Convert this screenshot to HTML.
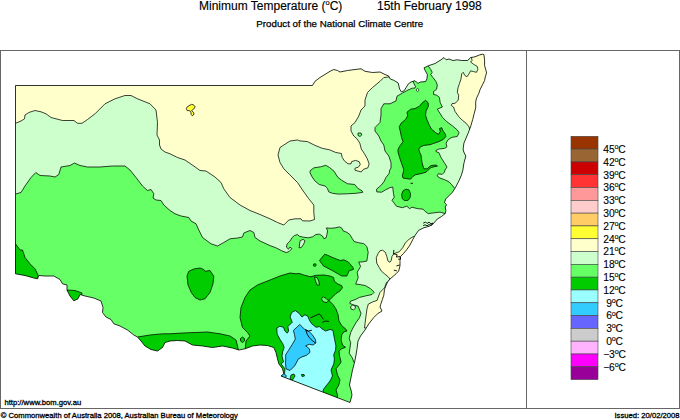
<!DOCTYPE html>
<html lang="en"><head><meta charset="utf-8"><title>Minimum Temperature (°C) 15th February 1998</title>
<style>
html,body{margin:0;padding:0;background:#fff}
body{width:680px;height:420px;overflow:hidden}
svg{display:block}
text{font-family:"Liberation Sans",Arial,Helvetica,sans-serif;fill:#000}
.t1{font-size:12px;stroke:#000;stroke-width:.15px}
.t2{font-size:9.75px;stroke:#000;stroke-width:.25px}
.sm{font-size:7.65px;stroke:#000;stroke-width:.3px}
.lg{font-size:10.3px;letter-spacing:-.15px;stroke:#000;stroke-width:.12px}
.sup{font-size:6.5px}
.c{stroke:#000;stroke-width:.75;stroke-linejoin:round}
</style></head><body>
<svg width="680" height="420" viewBox="0 0 680 420">
<rect width="680" height="420" fill="#fff"/>
<defs><clipPath id="nsw"><path d="M15.5,85.5 L312.5,85.5 L315.0,81.3 L320.0,77.5 L326.0,73.8 L330.0,71.3 L333.8,69.5 L337.5,70.5 L340.0,72.0 L347.5,70.5 L355.0,69.5 L361.0,68.8 L365.0,71.3 L372.5,72.5 L380.0,72.0 L385.0,74.5 L388.5,75.9 L390.3,79.0 L393.8,80.3 L398.2,83.0 L399.6,89.0 L401.3,91.8 L404.0,90.9 L406.2,87.4 L408.4,83.8 L411.0,82.0 L415.0,80.7 L416.3,82.0 L418.0,83.4 L420.3,82.0 L425.6,81.6 L426.9,79.0 L427.4,74.6 L425.2,70.6 L424.0,67.9 L428.5,65.7 L435.1,63.5 L441.0,59.8 L444.0,57.6 L446.2,59.8 L449.1,59.0 L452.8,60.5 L457.3,59.8 L461.7,60.5 L467.6,60.5 L470.6,57.6 L475.0,56.8 L479.4,55.0 L482.4,54.2 L483.9,54.6 L484.6,59.8 L484.6,65.7 L486.1,70.8 L486.5,73.1 L485.3,76.8 L484.6,80.5 L482.4,84.9 L480.2,89.3 L478.7,93.7 L476.5,98.2 L475.7,101.9 L475.7,107.7 L474.2,113.6 L472.7,119.5 L470.5,126.9 L468.3,132.8 L466.1,138.0 L463.9,143.2 L463.1,149.1 L463.8,152.0 L465.8,156.0 L463.8,163.8 L462.9,170.0 L461.4,175.2 L459.2,180.3 L456.2,186.2 L454.8,188.5 L452.5,192.2 L448.9,195.8 L445.9,198.8 L444.4,202.5 L446.6,204.7 L445.2,206.9 L445.9,210.6 L445.2,213.6 L441.5,216.5 L437.3,219.0 L433.3,223.7 L429.3,226.3 L424.0,227.7 L418.7,230.3 L415.3,235.0 L412.7,239.7 L410.0,245.0 L406.7,249.7 L403.3,253.7 L400.7,256.3 L400.0,260.3 L400.0,265.7 L398.7,271.0 L396.0,273.8 L390.0,279.0 L387.5,282.0 L386.0,285.6 L384.5,289.3 L383.8,295.2 L382.3,299.7 L380.8,304.1 L380.0,307.0 L382.0,311.0 L377.5,313.8 L373.8,317.5 L368.8,323.8 L365.0,330.0 L360.5,336.0 L358.0,341.0 L357.0,348.8 L356.0,355.0 L354.5,362.5 L352.5,370.0 L351.0,377.5 L349.5,385.0 L351.0,390.0 L352.0,395.0 L350.0,402.5 L281.0,376.0 L283.8,373.8 L282.5,368.8 L278.8,363.8 L277.5,358.8 L276.0,352.5 L273.8,347.5 L267.5,345.5 L260.0,345.0 L252.5,346.0 L245.0,348.8 L238.8,350.0 L232.5,348.0 L222.5,346.0 L212.5,347.5 L202.5,346.0 L192.5,345.0 L185.0,341.0 L177.5,340.5 L170.0,341.0 L165.0,342.5 L162.5,347.5 L157.5,351.0 L151.0,349.5 L145.0,346.0 L141.0,341.0 L137.5,337.0 L133.8,335.0 L127.5,330.0 L120.0,326.0 L113.8,323.8 L111.0,319.5 L106.0,317.0 L102.5,312.5 L103.0,307.5 L101.0,301.0 L93.8,298.0 L85.0,296.0 L80.0,294.5 L78.0,298.8 L73.8,300.8 L70.0,296.0 L67.0,290.0 L67.0,285.0 L62.5,283.8 L60.0,279.5 L53.8,276.0 L45.0,276.0 L38.8,275.5 L37.5,278.8 L33.8,278.0 L25.0,275.5 L15.5,273.8Z"/></clipPath></defs>
<text class="t1" x="199" y="10">Minimum Temperature (<tspan style="font-size:7.5px" dy="-4.8">o</tspan><tspan dy="4.8">C)</tspan></text>
<text class="t1" x="377" y="10">15th February 1998</text>
<text class="t2" x="256.3" y="27">Product of the National Climate Centre</text>
<path d="M15.5,85.5 L312.5,85.5 L315.0,81.3 L320.0,77.5 L326.0,73.8 L330.0,71.3 L333.8,69.5 L337.5,70.5 L340.0,72.0 L347.5,70.5 L355.0,69.5 L361.0,68.8 L365.0,71.3 L372.5,72.5 L380.0,72.0 L385.0,74.5 L388.5,75.9 L390.3,79.0 L393.8,80.3 L398.2,83.0 L399.6,89.0 L401.3,91.8 L404.0,90.9 L406.2,87.4 L408.4,83.8 L411.0,82.0 L415.0,80.7 L416.3,82.0 L418.0,83.4 L420.3,82.0 L425.6,81.6 L426.9,79.0 L427.4,74.6 L425.2,70.6 L424.0,67.9 L428.5,65.7 L435.1,63.5 L441.0,59.8 L444.0,57.6 L446.2,59.8 L449.1,59.0 L452.8,60.5 L457.3,59.8 L461.7,60.5 L467.6,60.5 L470.6,57.6 L475.0,56.8 L479.4,55.0 L482.4,54.2 L483.9,54.6 L484.6,59.8 L484.6,65.7 L486.1,70.8 L486.5,73.1 L485.3,76.8 L484.6,80.5 L482.4,84.9 L480.2,89.3 L478.7,93.7 L476.5,98.2 L475.7,101.9 L475.7,107.7 L474.2,113.6 L472.7,119.5 L470.5,126.9 L468.3,132.8 L466.1,138.0 L463.9,143.2 L463.1,149.1 L463.8,152.0 L465.8,156.0 L463.8,163.8 L462.9,170.0 L461.4,175.2 L459.2,180.3 L456.2,186.2 L454.8,188.5 L452.5,192.2 L448.9,195.8 L445.9,198.8 L444.4,202.5 L446.6,204.7 L445.2,206.9 L445.9,210.6 L445.2,213.6 L441.5,216.5 L437.3,219.0 L433.3,223.7 L429.3,226.3 L424.0,227.7 L418.7,230.3 L415.3,235.0 L412.7,239.7 L410.0,245.0 L406.7,249.7 L403.3,253.7 L400.7,256.3 L400.0,260.3 L400.0,265.7 L398.7,271.0 L396.0,273.8 L390.0,279.0 L387.5,282.0 L386.0,285.6 L384.5,289.3 L383.8,295.2 L382.3,299.7 L380.8,304.1 L380.0,307.0 L382.0,311.0 L377.5,313.8 L373.8,317.5 L368.8,323.8 L365.0,330.0 L360.5,336.0 L358.0,341.0 L357.0,348.8 L356.0,355.0 L354.5,362.5 L352.5,370.0 L351.0,377.5 L349.5,385.0 L351.0,390.0 L352.0,395.0 L350.0,402.5 L281.0,376.0 L283.8,373.8 L282.5,368.8 L278.8,363.8 L277.5,358.8 L276.0,352.5 L273.8,347.5 L267.5,345.5 L260.0,345.0 L252.5,346.0 L245.0,348.8 L238.8,350.0 L232.5,348.0 L222.5,346.0 L212.5,347.5 L202.5,346.0 L192.5,345.0 L185.0,341.0 L177.5,340.5 L170.0,341.0 L165.0,342.5 L162.5,347.5 L157.5,351.0 L151.0,349.5 L145.0,346.0 L141.0,341.0 L137.5,337.0 L133.8,335.0 L127.5,330.0 L120.0,326.0 L113.8,323.8 L111.0,319.5 L106.0,317.0 L102.5,312.5 L103.0,307.5 L101.0,301.0 L93.8,298.0 L85.0,296.0 L80.0,294.5 L78.0,298.8 L73.8,300.8 L70.0,296.0 L67.0,290.0 L67.0,285.0 L62.5,283.8 L60.0,279.5 L53.8,276.0 L45.0,276.0 L38.8,275.5 L37.5,278.8 L33.8,278.0 L25.0,275.5 L15.5,273.8Z" fill="#66ff66"/>
<g clip-path="url(#nsw)">
<path class="c" d="M0.0,194.0 L15.5,194.0 L21.0,192.5 L25.0,186.0 L31.0,177.5 L35.8,172.5 L40.0,175.5 L50.0,176.0 L55.0,177.0 L58.8,174.5 L61.0,167.0 L70.0,165.5 L74.5,163.0 L80.0,165.5 L87.5,167.0 L100.0,167.0 L112.5,166.0 L125.0,166.0 L130.0,170.0 L136.0,177.5 L142.5,186.0 L147.5,190.5 L151.0,189.5 L153.8,193.8 L153.0,198.0 L156.0,200.0 L161.0,200.5 L163.8,205.0 L170.0,210.5 L175.0,213.8 L181.0,216.0 L188.8,217.5 L191.0,221.0 L196.0,223.8 L198.8,230.0 L202.5,237.5 L211.0,243.8 L217.5,246.0 L223.8,242.5 L230.0,238.8 L237.5,238.0 L242.5,237.0 L243.8,233.0 L250.0,230.5 L253.8,232.5 L255.0,237.5 L260.0,241.0 L270.0,245.6 L275.9,247.8 L281.8,250.8 L286.2,252.6 L289.2,251.5 L291.9,248.6 L289.9,247.1 L288.5,249.3 L286.5,247.1 L287.0,244.1 L289.9,241.2 L292.2,237.5 L294.4,235.6 L297.3,234.5 L299.5,236.3 L303.2,237.2 L308.4,237.8 L312.8,236.8 L315.8,234.5 L319.5,234.2 L322.4,236.0 L323.9,238.7 L326.1,237.8 L326.9,234.5 L327.6,230.8 L326.4,227.9 L330.6,228.3 L335.0,227.9 L339.4,226.9 L341.6,227.9 L343.1,230.8 L346.8,232.3 L349.8,234.5 L352.0,238.2 L354.2,241.6 L358.6,242.7 L363.8,243.7 L366.8,246.4 L368.2,252.3 L367.5,256.7 L366.8,261.1 L362.4,261.9 L358.7,262.0 L360.6,266.4 L357.2,272.3 L358.2,277.5 L355.7,284.1 L360.2,284.6 L365.3,285.6 L370.5,288.6 L374.2,292.3 L372.0,294.5 L365.3,296.0 L359.4,297.4 L355.0,299.7 L350.6,301.1 L349.8,303.3 L352.8,304.8 L358.0,306.0 L361.0,313.3 L359.5,317.7 L355.8,322.9 L352.9,328.0 L350.7,332.5 L349.2,338.4 L350.7,342.8 L349.9,348.7 L349.2,353.2 L352.1,357.6 L354.0,362.5 L520.0,362.0 L520.0,30.0 L0.0,30.0Z" fill="#ccffcc"/>
<path class="c" d="M310.3,170.5 L314.0,167.8 L320.7,166.8 L325.8,165.3 L329.5,167.5 L334.0,171.2 L337.7,177.1 L341.4,180.1 L347.3,183.7 L354.7,184.5 L357.6,188.2 L362.0,190.8 L362.8,192.3 L356.1,193.3 L347.3,193.8 L338.4,194.1 L332.5,193.3 L328.8,191.9 L327.3,188.2 L325.1,186.0 L319.2,184.5 L314.8,180.8 L311.8,176.4 L310.0,172.7Z" fill="#66ff66"/>
<path class="c" d="M397.0,96.2 L396.0,101.0 L390.0,103.8 L383.8,103.8 L381.0,108.8 L381.0,115.0 L380.0,122.5 L375.0,127.5 L375.0,131.0 L378.8,136.0 L381.0,141.0 L383.8,145.0 L385.0,151.0 L388.8,156.0 L391.0,162.5 L391.0,168.0 L389.8,170.0 L389.0,173.7 L386.0,177.4 L383.9,181.8 L380.9,185.5 L376.5,189.2 L376.8,191.9 L381.6,192.2 L385.3,190.0 L389.8,187.7 L392.7,187.0 L393.5,193.6 L394.2,197.3 L392.0,200.3 L394.2,203.2 L396.4,206.2 L402.3,207.7 L406.8,206.2 L409.7,208.7 L411.9,207.2 L417.8,208.7 L423.0,209.1 L425.2,211.4 L428.2,213.6 L434.1,212.8 L440.0,212.1 L445.2,213.6 L455.0,214.0 L462.0,190.0 L454.8,188.5 L451.8,184.8 L448.9,181.8 L444.4,179.6 L440.0,178.1 L437.0,175.9 L438.5,173.7 L442.2,174.4 L444.4,172.2 L445.0,170.0 L447.0,167.0 L445.0,163.8 L441.0,157.5 L438.8,152.5 L436.5,152.0 L435.8,150.6 L438.7,149.1 L444.7,148.3 L446.9,146.9 L446.1,143.2 L448.3,139.5 L452.0,137.3 L457.2,136.5 L459.1,132.8 L457.2,129.9 L452.0,125.5 L446.9,121.8 L442.4,117.3 L440.2,113.6 L437.3,109.2 L442.4,107.0 L440.2,102.6 L439.5,98.1 L438.8,96.7 L436.6,95.2 L433.6,94.5 L433.6,91.5 L436.6,89.3 L437.3,84.9 L435.8,81.2 L432.9,77.5 L430.7,74.5 L432.2,72.3 L430.7,69.4 L428.5,66.4 L424.0,62.0 L420.0,70.0 L420.0,78.0 L413.5,80.0 L413.2,82.0 L414.1,83.8 L415.5,86.5 L415.0,88.0 L412.4,88.2 L408.0,90.0 L402.6,93.0Z" fill="#66ff66"/>
<path class="c" d="M425.5,100.3 L421.8,103.3 L419.5,106.2 L415.1,108.5 L410.7,109.2 L407.0,112.2 L407.7,115.8 L405.5,119.5 L401.1,123.2 L399.2,126.9 L400.3,131.4 L401.5,137.3 L403.0,141.7 L400.3,145.4 L398.1,149.1 L398.0,152.0 L400.0,158.8 L402.5,166.0 L403.8,170.0 L402.3,175.9 L403.1,178.1 L410.5,179.2 L412.7,176.6 L415.6,174.7 L420.8,173.7 L426.0,172.2 L431.0,167.5 L437.5,166.0 L436.0,165.0 L431.0,165.5 L427.0,168.8 L423.8,168.8 L422.0,162.5 L421.0,155.0 L419.5,152.0 L418.8,149.1 L420.3,146.9 L424.0,145.4 L429.9,144.7 L434.3,143.2 L438.7,141.7 L443.2,139.5 L445.8,136.5 L445.4,134.3 L442.9,130.6 L441.7,127.7 L439.5,128.4 L440.2,131.4 L438.7,134.3 L435.8,132.8 L431.4,129.1 L429.1,124.7 L426.9,119.5 L425.5,115.1 L426.2,110.7 L428.4,106.2 L428.1,102.6Z" fill="#00cc00"/>
<path class="c" d="M401.6,194.4 L403.1,190.7 L406.0,189.2 L409.0,189.9 L410.5,193.6 L410.2,197.3 L408.2,200.3 L404.5,200.6 L402.3,198.8Z" fill="#00cc00"/>
<path class="c" d="M10.0,243.8 L15.5,243.8 L20.0,250.0 L22.5,250.0 L25.0,257.5 L30.0,263.8 L35.0,268.8 L38.0,275.0 L37.5,285.0 L10.0,285.0Z" fill="#00cc00"/>
<path class="c" d="M67.0,290.0 L75.0,290.5 L82.0,293.0 L80.0,305.0 L66.0,305.0Z" fill="#00cc00"/>
<path class="c" d="M137.5,337.0 L150.0,335.0 L162.5,333.8 L170.0,333.8 L182.5,333.0 L195.0,332.5 L207.5,332.0 L220.0,333.8 L230.0,336.0 L236.0,340.0 L237.5,346.0 L238.8,352.0 L236.0,360.0 L135.0,360.0Z" fill="#00cc00"/>
<path class="c" d="M242.5,337.0 L244.5,338.5 L244.5,341.0 L242.5,342.5 L240.5,341.0 L240.5,338.5Z" fill="#00cc00"/>
<path class="c" d="M187.0,276.0 L188.8,271.3 L193.8,269.0 L200.0,268.0 L203.8,269.5 L205.0,271.3 L210.0,270.5 L213.8,276.3 L213.0,283.8 L210.0,292.5 L205.0,298.8 L200.0,300.0 L195.0,297.5 L191.3,292.5 L188.0,285.0Z" fill="#00cc00"/>
<path class="c" d="M324.7,254.2 L319.5,260.5 L323.2,265.7 L332.8,270.8 L341.7,276.0 L346.9,276.0 L349.1,270.8 L353.5,269.4 L352.8,267.2 L348.3,262.0 L343.9,259.8 L340.2,260.5 L332.8,257.6 L327.7,255.3Z" fill="#00cc00"/>
<path class="c" d="M313.6,264.0 L315.6,263.8 L316.3,265.3 L315.0,266.4 L313.4,265.8Z" fill="#00cc00"/>
<path class="c" d="M245.0,352.0 L246.0,341.0 L250.0,336.0 L247.5,332.5 L242.5,327.5 L240.0,317.5 L241.0,307.5 L245.0,297.5 L250.0,290.0 L257.5,285.0 L270.0,280.0 L280.0,276.0 L290.0,273.0 L296.0,273.8 L298.9,273.4 L304.8,275.3 L310.7,276.8 L315.8,275.3 L324.0,275.0 L329.9,276.0 L333.6,277.5 L334.3,281.2 L338.0,284.1 L341.7,285.6 L342.4,287.8 L340.2,290.8 L335.8,293.7 L332.8,296.7 L329.9,299.7 L328.5,300.0 L332.9,304.4 L335.9,308.9 L338.1,314.8 L338.9,320.7 L341.8,325.8 L345.5,328.8 L347.0,331.0 L344.0,331.8 L341.8,334.7 L341.1,339.9 L342.5,345.0 L345.5,347.3 L341.8,348.7 L338.9,351.0 L339.6,356.1 L341.1,362.0 L340.0,363.8 L336.0,368.8 L337.5,375.0 L340.0,380.0 L338.8,385.0 L336.0,390.0 L337.5,395.0 L337.0,402.0 L300.0,402.0 L270.0,380.0 L270.0,352.0Z" fill="#00cc00"/>
<path class="c" d="M314.4,276.8 L317.3,277.8 L318.8,281.2 L319.5,284.9 L317.3,285.2 L315.8,282.0Z" fill="#66ff66"/>
<path class="c" d="M321.8,298.2 L323.2,296.7 L326.2,298.5 L328.4,300.8 L326.9,302.6 L323.7,301.9 L321.8,300.0Z" fill="#66ff66"/>
<path class="c" d="M283.5,362.0 L282.0,356.1 L282.7,351.7 L284.2,347.3 L282.7,343.6 L279.8,339.1 L277.1,334.0 L276.8,328.0 L279.8,326.3 L283.5,327.3 L284.9,331.0 L287.2,333.2 L288.6,331.0 L287.9,326.6 L292.3,322.2 L290.1,317.0 L291.6,312.6 L295.3,310.6 L299.0,313.3 L301.9,317.0 L304.9,314.8 L307.8,316.2 L309.3,319.9 L311.5,323.6 L316.0,327.3 L319.7,326.6 L321.9,328.8 L325.6,331.0 L330.0,329.5 L332.9,330.3 L334.4,338.4 L335.9,345.8 L335.6,350.2 L333.7,354.7 L334.4,359.1 L333.8,363.8 L331.0,370.0 L332.5,376.0 L330.0,381.0 L326.0,386.0 L323.0,390.0 L323.8,395.0 L300.0,395.0 L281.0,380.0 L284.5,373.8 L285.0,368.8 L281.0,363.8Z" fill="#99ffff"/>
<path class="c" d="M299.7,324.4 L296.8,327.3 L293.4,330.3 L294.5,334.7 L295.3,339.1 L292.3,344.3 L288.6,350.2 L285.7,354.7 L285.7,359.1 L285.5,363.0 L286.0,368.8 L290.0,370.5 L294.5,366.0 L296.8,362.0 L298.2,359.1 L301.9,356.9 L306.4,355.4 L310.0,352.4 L309.3,348.7 L305.6,345.8 L309.3,344.3 L313.0,345.0 L316.0,342.8 L315.2,339.1 L312.3,334.7 L309.3,331.8 L304.9,329.5 L302.7,327.3Z" fill="#33ccff"/>
<path class="c" d="M281.0,374.0 L284.0,373.5 L286.5,376.0 L285.0,378.0 L281.0,376.5Z" fill="#33ccff"/>
<path class="c" d="M291.0,375.0 L294.0,374.0 L295.0,376.0 L292.5,380.0 L290.0,379.5Z" fill="#00cc00"/>
<path class="c" d="M301.5,374.5 L304.0,374.5 L304.5,376.0 L302.0,376.5Z" fill="#00cc00"/>
<path class="c" d="M0.0,123.3 L15.5,123.3 L21.0,121.0 L24.5,118.8 L25.0,115.0 L28.8,112.5 L35.0,110.5 L41.0,111.8 L46.0,113.8 L51.0,117.5 L56.0,118.8 L62.5,120.5 L74.0,120.5 L77.5,123.3 L82.0,123.3 L87.5,119.5 L95.0,113.8 L105.0,103.8 L115.0,98.8 L125.0,95.5 L131.0,95.5 L137.5,98.8 L150.0,103.8 L156.0,110.0 L157.5,122.5 L157.0,135.0 L159.5,140.0 L159.5,145.0 L161.0,149.0 L165.0,152.0 L170.0,153.8 L177.5,157.5 L185.0,160.0 L193.8,166.0 L200.0,170.5 L206.0,171.0 L215.0,177.0 L221.0,182.5 L223.8,188.8 L230.0,197.5 L240.0,205.0 L250.0,210.5 L260.0,214.5 L270.0,218.8 L277.5,222.5 L283.8,225.0 L288.8,220.0 L295.0,218.8 L301.0,218.8 L302.5,220.8 L310.0,221.0 L314.5,219.5 L313.8,212.5 L313.8,205.0 L308.8,198.8 L302.5,190.0 L297.5,182.5 L290.0,175.0 L283.8,168.8 L280.0,162.5 L278.0,155.0 L280.0,147.5 L283.8,145.0 L290.0,141.0 L297.5,140.0 L300.0,140.9 L307.4,141.6 L314.8,145.3 L322.2,148.3 L329.5,149.8 L335.5,152.4 L341.4,153.5 L342.1,157.2 L344.3,160.8 L348.0,163.8 L351.0,163.8 L351.7,161.6 L355.4,160.4 L359.1,161.6 L360.3,164.5 L358.3,167.2 L355.0,168.2 L355.0,170.2 L358.3,171.2 L361.3,171.9 L363.5,169.3 L367.9,167.8 L369.1,163.8 L367.2,158.6 L364.3,153.5 L361.3,149.0 L359.8,143.1 L356.9,138.7 L353.8,136.0 L351.0,131.0 L351.0,126.0 L355.0,122.5 L358.8,116.0 L361.0,110.0 L365.0,106.0 L365.0,100.0 L367.5,92.5 L372.5,87.5 L380.0,81.3 L383.8,77.5 L388.8,77.0 L390.0,60.0 L0.0,60.0Z" fill="#ffffcc"/>
<path class="c" d="M358.0,133.0 L361.0,133.0 L361.8,135.0 L360.0,136.5 L358.0,135.5Z" fill="#66ff66"/>
<path class="c" d="M471.3,56.0 L472.0,60.5 L470.6,62.0 L473.5,64.2 L477.2,66.4 L477.9,69.4 L476.5,72.3 L473.5,71.6 L470.6,70.8 L469.1,73.8 L466.9,76.8 L464.7,75.3 L463.2,72.3 L461.7,73.8 L461.0,79.0 L459.5,83.4 L458.0,87.8 L457.3,92.3 L458.7,95.2 L458.2,100.3 L455.0,103.3 L452.0,103.6 L451.3,105.5 L453.5,107.0 L455.0,111.4 L458.7,116.6 L462.4,120.3 L466.1,123.2 L469.0,126.9 L469.8,129.9 L500.0,129.9 L500.0,50.0Z" fill="#ffffcc"/>
<path class="c" d="M413.5,236.5 L409.3,239.0 L405.3,243.0 L402.7,247.7 L399.3,251.7 L394.0,253.7 L392.0,256.3 L391.3,260.3 L390.0,262.3 L388.0,261.0 L386.7,256.3 L385.3,252.3 L382.7,250.3 L380.0,250.7 L378.0,253.7 L376.3,257.7 L376.7,263.0 L379.3,267.7 L381.3,271.0 L384.5,273.8 L388.2,276.8 L390.0,279.0 L388.0,281.5 L420.0,281.5 L420.0,236.5Z" fill="#ffffcc"/>
<path class="c" d="M386.5,282.5 L384.5,287.8 L383.0,289.3 L380.1,292.3 L378.6,296.0 L377.1,300.4 L372.7,301.9 L368.3,304.1 L367.0,308.8 L366.0,316.0 L365.0,323.8 L364.5,328.0 L395.0,328.0 L395.0,282.5Z" fill="#ffffcc"/>
<path class="c" d="M186.3,108.7 L186.9,107.2 L189.0,105.7 L191.4,104.4 L193.5,104.8 L195.0,106.6 L194.4,108.4 L192.6,109.6 L191.7,110.8 L192.9,111.7 L193.9,113.2 L193.6,115.0 L192.3,115.8 L191.2,114.6 L191.0,112.9 L190.6,111.4 L189.0,110.6 L187.2,110.6Z" fill="#ffff33"/>
<path class="c" d="M300.3,240.5 L303.2,239.4 L305.0,240.7 L303.7,244.1 L301.3,247.5 L299.2,247.8 L299.5,244.1Z" fill="#ccffcc"/>
<path class="c" d="M352.9,304.9 L355.2,306.0 L355.4,308.3 L353.5,309.9 L351.0,309.0 L350.5,306.6Z" fill="#ccffcc"/>
</g>
<ellipse cx="417.6" cy="90" rx="1.2" ry="1.5" fill="#fff" stroke="#000" stroke-width=".6"/>
<path d="M393.5,253.7 L397.2,254.8 L396.4,257.0 L400.1,256.6 L400.5,259.2 L398.6,259.2" fill="none" stroke="#000" stroke-width=".9" stroke-linecap="round" stroke-linejoin="round"/>
<path d="M396.8,265.8 L399.4,265.1" fill="none" stroke="#000" stroke-width=".9" stroke-linecap="round" stroke-linejoin="round"/>
<path d="M394.2,270.3 L396.5,270.8" fill="none" stroke="#000" stroke-width=".9" stroke-linecap="round" stroke-linejoin="round"/>
<path d="M393.8,250.3 L393.6,253.5" fill="none" stroke="#000" stroke-width=".9" stroke-linecap="round" stroke-linejoin="round"/>
<path d="M423.5,223.0 L425.5,222.0 L427.0,223.5 L429.0,222.2 L431.0,223.8 L433.0,223.0 L431.5,225.3 L429.0,224.6 L427.0,225.8 L425.0,224.8 L423.5,225.5" fill="none" stroke="#000" stroke-width=".9" stroke-linecap="round" stroke-linejoin="round"/>
<path d="M310.8,317.7 L318.9,314.0 L320.5,315.0 L323.3,319.2" fill="none" stroke="#000" stroke-width=".9" stroke-linecap="round" stroke-linejoin="round"/>
<path d="M322.6,322.2 L325.5,321.0 L328.5,321.4" fill="none" stroke="#000" stroke-width=".9" stroke-linecap="round" stroke-linejoin="round"/>
<path d="M305.6,329.5 L307.1,334.0 L309.3,337.7 L312.3,340.6 L315.2,342.8" fill="none" stroke="#000" stroke-width=".9" stroke-linecap="round" stroke-linejoin="round"/>
<path d="M306.0,330.0 L308.6,331.0 L311.5,330.3" fill="none" stroke="#000" stroke-width=".9" stroke-linecap="round" stroke-linejoin="round"/>
<path d="M411.0,183.3 L412.6,183.3" fill="none" stroke="#000" stroke-width=".9" stroke-linecap="round" stroke-linejoin="round"/>
<path d="M15.5,85.5 L312.5,85.5 L315.0,81.3 L320.0,77.5 L326.0,73.8 L330.0,71.3 L333.8,69.5 L337.5,70.5 L340.0,72.0 L347.5,70.5 L355.0,69.5 L361.0,68.8 L365.0,71.3 L372.5,72.5 L380.0,72.0 L385.0,74.5 L388.5,75.9 L390.3,79.0 L393.8,80.3 L398.2,83.0 L399.6,89.0 L401.3,91.8 L404.0,90.9 L406.2,87.4 L408.4,83.8 L411.0,82.0 L415.0,80.7 L416.3,82.0 L418.0,83.4 L420.3,82.0 L425.6,81.6 L426.9,79.0 L427.4,74.6 L425.2,70.6 L424.0,67.9 L428.5,65.7 L435.1,63.5 L441.0,59.8 L444.0,57.6 L446.2,59.8 L449.1,59.0 L452.8,60.5 L457.3,59.8 L461.7,60.5 L467.6,60.5 L470.6,57.6 L475.0,56.8 L479.4,55.0 L482.4,54.2 L483.9,54.6 L484.6,59.8 L484.6,65.7 L486.1,70.8 L486.5,73.1 L485.3,76.8 L484.6,80.5 L482.4,84.9 L480.2,89.3 L478.7,93.7 L476.5,98.2 L475.7,101.9 L475.7,107.7 L474.2,113.6 L472.7,119.5 L470.5,126.9 L468.3,132.8 L466.1,138.0 L463.9,143.2 L463.1,149.1 L463.8,152.0 L465.8,156.0 L463.8,163.8 L462.9,170.0 L461.4,175.2 L459.2,180.3 L456.2,186.2 L454.8,188.5 L452.5,192.2 L448.9,195.8 L445.9,198.8 L444.4,202.5 L446.6,204.7 L445.2,206.9 L445.9,210.6 L445.2,213.6 L441.5,216.5 L437.3,219.0 L433.3,223.7 L429.3,226.3 L424.0,227.7 L418.7,230.3 L415.3,235.0 L412.7,239.7 L410.0,245.0 L406.7,249.7 L403.3,253.7 L400.7,256.3 L400.0,260.3 L400.0,265.7 L398.7,271.0 L396.0,273.8 L390.0,279.0 L387.5,282.0 L386.0,285.6 L384.5,289.3 L383.8,295.2 L382.3,299.7 L380.8,304.1 L380.0,307.0 L382.0,311.0 L377.5,313.8 L373.8,317.5 L368.8,323.8 L365.0,330.0 L360.5,336.0 L358.0,341.0 L357.0,348.8 L356.0,355.0 L354.5,362.5 L352.5,370.0 L351.0,377.5 L349.5,385.0 L351.0,390.0 L352.0,395.0 L350.0,402.5 L281.0,376.0 L283.8,373.8 L282.5,368.8 L278.8,363.8 L277.5,358.8 L276.0,352.5 L273.8,347.5 L267.5,345.5 L260.0,345.0 L252.5,346.0 L245.0,348.8 L238.8,350.0 L232.5,348.0 L222.5,346.0 L212.5,347.5 L202.5,346.0 L192.5,345.0 L185.0,341.0 L177.5,340.5 L170.0,341.0 L165.0,342.5 L162.5,347.5 L157.5,351.0 L151.0,349.5 L145.0,346.0 L141.0,341.0 L137.5,337.0 L133.8,335.0 L127.5,330.0 L120.0,326.0 L113.8,323.8 L111.0,319.5 L106.0,317.0 L102.5,312.5 L103.0,307.5 L101.0,301.0 L93.8,298.0 L85.0,296.0 L80.0,294.5 L78.0,298.8 L73.8,300.8 L70.0,296.0 L67.0,290.0 L67.0,285.0 L62.5,283.8 L60.0,279.5 L53.8,276.0 L45.0,276.0 L38.8,275.5 L37.5,278.8 L33.8,278.0 L25.0,275.5 L15.5,273.8Z" fill="none" stroke="#000" stroke-width=".8" stroke-linejoin="round"/>
<g stroke="#666" stroke-width="1" fill="none"><path d="M0,50.5H680M0.5,50V409M0,408.5H680M526.5,50V409M679.5,50V409"/></g>
<rect x="571.0" y="136.30" width="27.0" height="12.81" fill="#993300" stroke="#444" stroke-width=".6"/>
<rect x="571.0" y="149.11" width="27.0" height="12.81" fill="#996633" stroke="#444" stroke-width=".6"/>
<rect x="571.0" y="161.91" width="27.0" height="12.81" fill="#cc0000" stroke="#444" stroke-width=".6"/>
<rect x="571.0" y="174.72" width="27.0" height="12.81" fill="#ff3333" stroke="#444" stroke-width=".6"/>
<rect x="571.0" y="187.52" width="27.0" height="12.81" fill="#ff9999" stroke="#444" stroke-width=".6"/>
<rect x="571.0" y="200.33" width="27.0" height="12.81" fill="#ffcccc" stroke="#444" stroke-width=".6"/>
<rect x="571.0" y="213.13" width="27.0" height="12.81" fill="#ffcc66" stroke="#444" stroke-width=".6"/>
<rect x="571.0" y="225.94" width="27.0" height="12.81" fill="#ffff33" stroke="#444" stroke-width=".6"/>
<rect x="571.0" y="238.74" width="27.0" height="12.81" fill="#ffffcc" stroke="#444" stroke-width=".6"/>
<rect x="571.0" y="251.55" width="27.0" height="12.81" fill="#ccffcc" stroke="#444" stroke-width=".6"/>
<rect x="571.0" y="264.35" width="27.0" height="12.81" fill="#66ff66" stroke="#444" stroke-width=".6"/>
<rect x="571.0" y="277.16" width="27.0" height="12.81" fill="#00cc00" stroke="#444" stroke-width=".6"/>
<rect x="571.0" y="289.96" width="27.0" height="12.81" fill="#99ffff" stroke="#444" stroke-width=".6"/>
<rect x="571.0" y="302.77" width="27.0" height="12.81" fill="#33ccff" stroke="#444" stroke-width=".6"/>
<rect x="571.0" y="315.57" width="27.0" height="12.81" fill="#6666ff" stroke="#444" stroke-width=".6"/>
<rect x="571.0" y="328.38" width="27.0" height="12.81" fill="#cccccc" stroke="#444" stroke-width=".6"/>
<rect x="571.0" y="341.18" width="27.0" height="12.81" fill="#ffb3ff" stroke="#444" stroke-width=".6"/>
<rect x="571.0" y="353.99" width="27.0" height="12.81" fill="#ff00ff" stroke="#444" stroke-width=".6"/>
<rect x="571.0" y="366.79" width="27.0" height="12.81" fill="#990099" stroke="#444" stroke-width=".6"/>
<text class="lg" x="614.5" y="152.9" text-anchor="middle">45<tspan style="font-size:7.2px" dy="-3.9">o</tspan><tspan dy="3.9">C</tspan></text>
<text class="lg" x="614.5" y="165.7" text-anchor="middle">42<tspan style="font-size:7.2px" dy="-3.9">o</tspan><tspan dy="3.9">C</tspan></text>
<text class="lg" x="614.5" y="178.5" text-anchor="middle">39<tspan style="font-size:7.2px" dy="-3.9">o</tspan><tspan dy="3.9">C</tspan></text>
<text class="lg" x="614.5" y="191.3" text-anchor="middle">36<tspan style="font-size:7.2px" dy="-3.9">o</tspan><tspan dy="3.9">C</tspan></text>
<text class="lg" x="614.5" y="204.1" text-anchor="middle">33<tspan style="font-size:7.2px" dy="-3.9">o</tspan><tspan dy="3.9">C</tspan></text>
<text class="lg" x="614.5" y="216.9" text-anchor="middle">30<tspan style="font-size:7.2px" dy="-3.9">o</tspan><tspan dy="3.9">C</tspan></text>
<text class="lg" x="614.5" y="229.7" text-anchor="middle">27<tspan style="font-size:7.2px" dy="-3.9">o</tspan><tspan dy="3.9">C</tspan></text>
<text class="lg" x="614.5" y="242.5" text-anchor="middle">24<tspan style="font-size:7.2px" dy="-3.9">o</tspan><tspan dy="3.9">C</tspan></text>
<text class="lg" x="614.5" y="255.3" text-anchor="middle">21<tspan style="font-size:7.2px" dy="-3.9">o</tspan><tspan dy="3.9">C</tspan></text>
<text class="lg" x="614.5" y="268.2" text-anchor="middle">18<tspan style="font-size:7.2px" dy="-3.9">o</tspan><tspan dy="3.9">C</tspan></text>
<text class="lg" x="614.5" y="281.0" text-anchor="middle">15<tspan style="font-size:7.2px" dy="-3.9">o</tspan><tspan dy="3.9">C</tspan></text>
<text class="lg" x="614.5" y="293.8" text-anchor="middle">12<tspan style="font-size:7.2px" dy="-3.9">o</tspan><tspan dy="3.9">C</tspan></text>
<text class="lg" x="614.5" y="306.6" text-anchor="middle">9<tspan style="font-size:7.2px" dy="-3.9">o</tspan><tspan dy="3.9">C</tspan></text>
<text class="lg" x="614.5" y="319.4" text-anchor="middle">6<tspan style="font-size:7.2px" dy="-3.9">o</tspan><tspan dy="3.9">C</tspan></text>
<text class="lg" x="614.5" y="332.2" text-anchor="middle">3<tspan style="font-size:7.2px" dy="-3.9">o</tspan><tspan dy="3.9">C</tspan></text>
<text class="lg" x="614.5" y="345.0" text-anchor="middle">0<tspan style="font-size:7.2px" dy="-3.9">o</tspan><tspan dy="3.9">C</tspan></text>
<text class="lg" x="614.5" y="357.8" text-anchor="middle">−3<tspan style="font-size:7.2px" dy="-3.9">o</tspan><tspan dy="3.9">C</tspan></text>
<text class="lg" x="614.5" y="370.6" text-anchor="middle">−6<tspan style="font-size:7.2px" dy="-3.9">o</tspan><tspan dy="3.9">C</tspan></text>
<text class="sm" x="4.5" y="404.6">http://www.bom.gov.au</text>
<text class="sm" x="0.8" y="417.8">© Commonwealth of Australia 2008, Australian Bureau of Meteorology</text>
<text class="sm" x="679.5" y="417.8" text-anchor="end">Issued: 20/02/2008</text>
</svg></body></html>
